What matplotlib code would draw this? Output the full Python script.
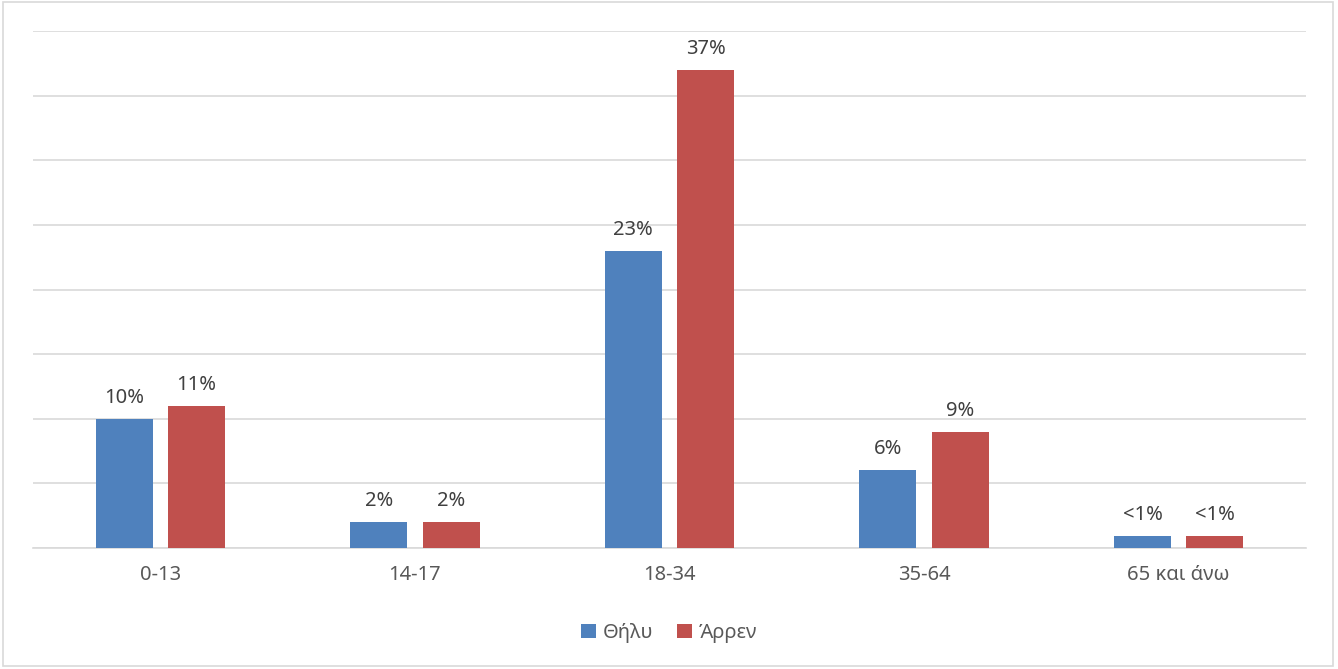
import matplotlib
matplotlib.use('Agg')
import matplotlib.pyplot as plt
import numpy as np
from matplotlib.patches import Rectangle

plt.rcParams['font.family'] = ['Noto Sans', 'DejaVu Sans']

categories = ['0-13', '14-17', '18-34', '35-64', '65 και άνω']
female = [10, 2, 23, 6, 0.9]
male = [11, 2, 37, 9, 0.9]
female_labels = ['10%', '2%', '23%', '6%', '<1%']
male_labels = ['11%', '2%', '37%', '9%', '<1%']

blue = '#4F81BD'
red = '#C0504D'
text_col = '#595959'

fig = plt.figure(figsize=(13.38, 6.69), dpi=100)
ax = fig.add_axes([33/1338, 1 - 548/669, (1306-33)/1338, (548-31)/669])

x = np.arange(len(categories))
w = 0.224
off = 0.142
b1 = ax.bar(x - off, female, w, color=blue, label='Θήλυ', zorder=3)
b2 = ax.bar(x + off, male, w, color=red, label='Άρρεν', zorder=3)

for bars, labs in [(b1, female_labels), (b2, male_labels)]:
    for b, t in zip(bars, labs):
        ax.annotate(t, (b.get_x() + b.get_width()/2, b.get_height()),
                    xytext=(0, 8), textcoords='offset points',
                    ha='center', va='bottom', fontsize=14.5, color='#404040')

ax.set_xlim(-0.5, 4.5)
ax.set_ylim(0, 40)
ax.set_yticks(np.arange(0, 41, 5))
ax.yaxis.grid(True, color='#D9D9D9', linewidth=1.2, zorder=0)
ax.tick_params(axis='y', left=False, labelleft=False)
ax.tick_params(axis='x', length=0, pad=12, labelsize=14.5, labelcolor=text_col)
ax.set_xticks(x)
ax.set_xticklabels(categories)
for s in ['top', 'right', 'left']:
    ax.spines[s].set_visible(False)
ax.spines['bottom'].set_color('#D9D9D9')
ax.spines['bottom'].set_linewidth(1.2)

leg = fig.legend(loc='center', bbox_to_anchor=(0.5, 1 - 633/669), ncol=2,
                 frameon=False, fontsize=14.5, handlelength=0.75, handleheight=0.75,
                 handletextpad=0.3, columnspacing=1.2)
for t in leg.get_texts():
    t.set_color(text_col)

fig.patches.append(Rectangle((3/1338, 3/669), 1330/1338, 664/669,
                             transform=fig.transFigure, fill=False,
                             edgecolor='#D9D9D9', linewidth=1.2))

fig.savefig('out.png', dpi=100)
